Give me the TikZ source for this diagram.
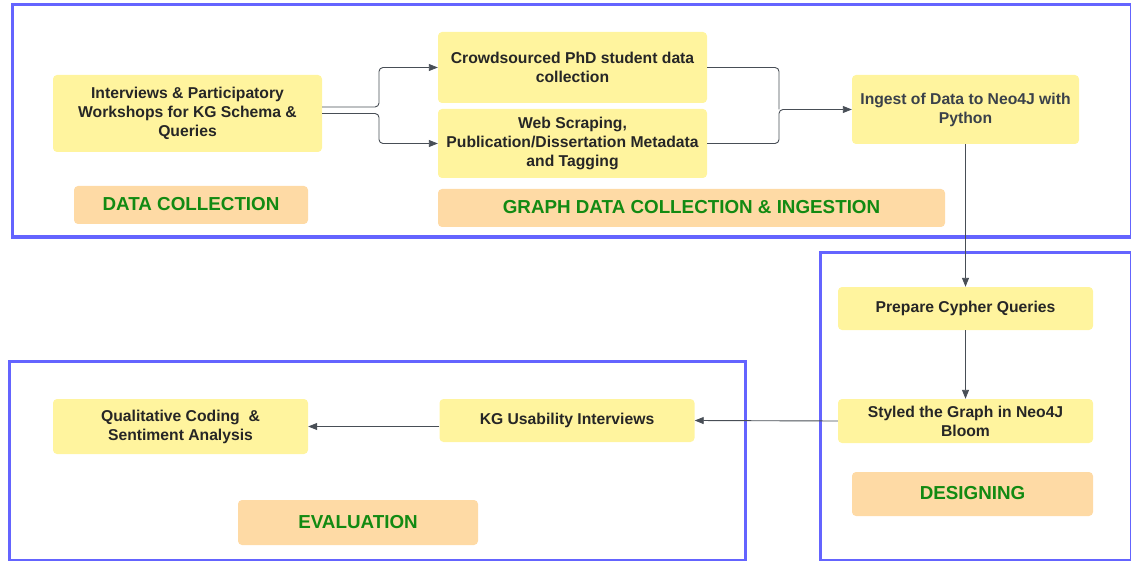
\documentclass[tikz,border=0pt]{standalone}
\usepackage{fontspec}
\setmainfont{Liberation Sans}
\usetikzlibrary{arrows.meta}
\definecolor{frameblue}{RGB}{100,100,255}
\definecolor{boxyellow}{RGB}{255,244,158}
\definecolor{boxpeach}{RGB}{254,218,165}
\definecolor{labgreen}{RGB}{18,138,18}
\definecolor{txtdark}{RGB}{38,38,38}
\definecolor{txtgray}{RGB}{58,65,74}
\definecolor{conncol}{RGB}{72,78,86}
\tikzset{
  frame/.style={draw=frameblue, line width=3pt},
  ybox/.style={fill=boxyellow, rounded corners=4pt, inner sep=0pt, align=center,
    text=txtdark, font=\fontsize{15.7}{19}\selectfont\bfseries},
  plabel/.style={fill=boxpeach, rounded corners=4pt, inner sep=0pt, align=center,
    text=labgreen, font=\fontsize{18.8}{22}\selectfont\bfseries},
  conn/.style={draw=conncol, line width=0.9pt, rounded corners=4pt},
  arr/.style={conn, -{Triangle[length=9pt,width=7pt]}}
}
\begin{document}
\begin{tikzpicture}[x=1pt,y=-1pt]
\useasboundingbox (0,0) rectangle (1131,561);
\clip (0,0) rectangle (1131,561);
% frames
\draw[frame] (12,5) rectangle (1131,237);
\draw[frame] (820,252) rectangle (1131,560.5);
\draw[frame] (9,361) rectangle (745,560.5);
% nodes
\node[ybox, minimum width=269pt, minimum height=77pt] (n1) at (187.5,113.5)
  {Interviews \& Participatory\\Workshops for KG Schema \&\\Queries};
\node[ybox, minimum width=269pt, minimum height=71pt] (n2) at (572.5,67.5)
  {Crowdsourced PhD student data\\collection};
\node[ybox, minimum width=269pt, minimum height=69pt] (n3) at (572.5,143.5)
  {Web Scraping,\\Publication/Dissertation Metadata\\and Tagging};
\node[ybox, text=txtgray, minimum width=227pt, minimum height=69pt] (n4) at (965.5,109.5)
  {Ingest of Data to Neo4J with\\Python};
\node[ybox, minimum width=255pt, minimum height=43pt] (prep) at (965.5,308.5)
  {Prepare Cypher Queries};
\node[ybox, minimum width=255pt, minimum height=44pt] (sty) at (965.5,421)
  {Styled the Graph in Neo4J\\Bloom};
\node[ybox, minimum width=255pt, minimum height=43pt] (kg) at (567,420.5)
  {KG Usability Interviews};
\node[ybox, minimum width=255pt, minimum height=55pt] (qual) at (180.5,426.5)
  {Qualitative Coding\ \ \&\\Sentiment Analysis};
% labels
\node[plabel, minimum width=234pt, minimum height=38pt] (lab1) at (191,205) {\raisebox{2pt}{DATA COLLECTION}};
\node[plabel, minimum width=507pt, minimum height=38pt] (lab2) at (691.5,208) {\raisebox{2pt}{GRAPH DATA COLLECTION \& INGESTION}};
\node[plabel, minimum width=241pt, minimum height=44pt] (lab3) at (972.5,494) {\raisebox{2pt}{DESIGNING}};
\node[plabel, minimum width=240pt, minimum height=45pt] (lab4) at (358,522.5) {\raisebox{2pt}{EVALUATION}};
% junctions
\coordinate (j1) at (379,113);
\coordinate (j2) at (779,109);
% connectors
\draw[arr] ([yshift=6.5pt]n1.east) -| (j1|-n2.west) -- (n2.west);
\draw[arr] (n1.east) -| (j1|-n3.west) -- (n3.west);
\draw[conn] (n2.east) -| (j2|-n4.west);
\draw[arr] (n3.east) -| (j2|-n4.west) -- (n4.west);
\draw[arr] (n4.south) -- (prep.north);
\draw[arr] (prep.south) -- (sty.north);
\draw[arr] (sty.west) -- (kg.east);
\draw[arr] (kg.west|-qual.east) -- (qual.east);
\end{tikzpicture}
\end{document}
